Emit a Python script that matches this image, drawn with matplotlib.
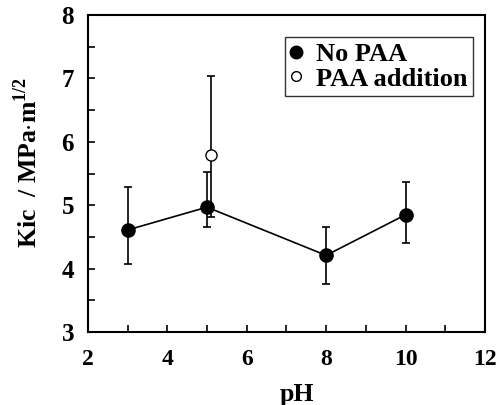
import matplotlib
matplotlib.use('Agg')
from matplotlib import pyplot as plt
from matplotlib.ticker import MultipleLocator

# data
ph_no_paa = [3, 5, 8, 10]
kic_no_paa = [4.61, 4.97, 4.21, 4.85]
err_lo_no_paa = [0.54, 0.32, 0.45, 0.44]
err_hi_no_paa = [0.67, 0.56, 0.44, 0.51]

ph_paa = [5.1]
kic_paa = [5.80]
err_lo_paa = [0.99]
err_hi_paa = [1.24]

plt.rcParams['font.family'] = 'Liberation Serif'
plt.rcParams['font.weight'] = 'bold'
plt.rcParams['mathtext.fontset'] = 'custom'
plt.rcParams['mathtext.rm'] = 'Liberation Serif'
plt.rcParams['mathtext.bf'] = 'Liberation Serif:bold'

fig = plt.figure(figsize=(5.02, 4.05), dpi=100)
ax = fig.add_axes([0.175, 0.180, 0.791, 0.783])

ax.errorbar(ph_no_paa, kic_no_paa, yerr=[err_lo_no_paa, err_hi_no_paa],
            fmt='o-', color='black', markersize=9.5, linewidth=1.2,
            elinewidth=1.2, capsize=3, capthick=1.2, label='No PAA', zorder=3)
ax.errorbar(ph_paa, kic_paa, yerr=[err_lo_paa, err_hi_paa],
            fmt='o', color='black', markerfacecolor='white', markersize=8,
            elinewidth=1.2, capsize=3, capthick=1.2, label='PAA addition', zorder=4)

ax.set_xlim(2, 12)
ax.set_ylim(3, 8)
ax.xaxis.set_major_locator(MultipleLocator(2))
ax.xaxis.set_minor_locator(MultipleLocator(1))
ax.yaxis.set_major_locator(MultipleLocator(1))
ax.yaxis.set_minor_locator(MultipleLocator(0.5))
ax.tick_params(which='both', direction='in', top=False, right=False, width=1.2)
ax.tick_params(which='major', length=5)
ax.tick_params(which='minor', length=5)
ax.tick_params(axis='x', labelsize=17, pad=12)
ax.tick_params(axis='y', labelsize=18, pad=10)
for s in ax.spines.values():
    s.set_linewidth(1.5)

ax.set_xlabel('pH', fontsize=18.5, fontweight='bold')
ax.set_ylabel(r'Kic  / MPa$\cdot$m$^{1/2}$', fontsize=18.5, fontweight='bold')
ax.xaxis.set_label_coords(0.526, -0.16)
ax.yaxis.set_label_coords(-0.115, 0.536)

# legend with only markers (no error bars)
h = [plt.Line2D([], [], marker='o', color='black', linestyle='none', markersize=9),
     plt.Line2D([], [], marker='o', color='black', markerfacecolor='white',
                linestyle='none', markersize=7)]
leg = ax.legend(h, ['No PAA', 'PAA addition'], loc='upper right',
                bbox_to_anchor=(0.97, 0.93), fontsize=19, frameon=True,
                fancybox=False, handletextpad=0.5, handlelength=0.5,
                borderpad=0.2, labelspacing=0.05, borderaxespad=0)
leg.get_frame().set_edgecolor('black')
leg.get_frame().set_linewidth(1.0)

fig.savefig('out.png', dpi=100)
